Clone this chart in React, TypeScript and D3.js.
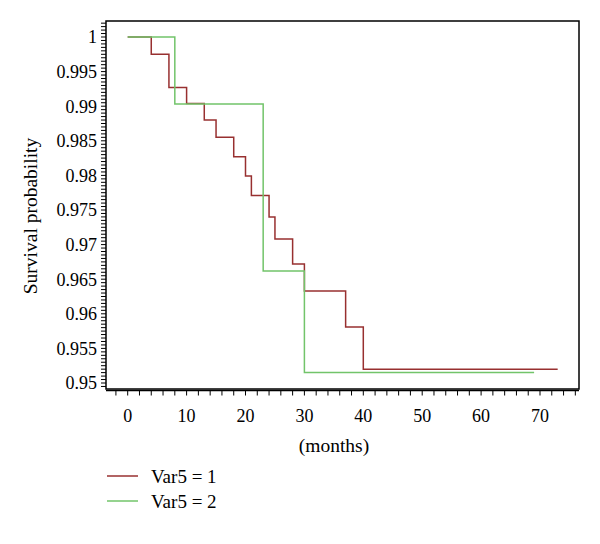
import React from "react";
import * as d3 from "d3";

const group1Times = [0, 4, 7, 10, 13, 15, 18, 20, 21, 24, 25, 28, 30, 37, 40];
const group1Surv = [1, 0.9975, 0.9927, 0.9904, 0.988, 0.9855, 0.9827, 0.9799, 0.9771, 0.974, 0.9708, 0.9672, 0.9633, 0.9581, 0.952];
const group1End = 73;
const group2Times = [0, 8, 23, 30];
const group2Surv = [1, 0.9903, 0.9662, 0.9515];
const group2End = 69;
const xTicks = [0, 10, 20, 30, 40, 50, 60, 70];
const yTicks = [1, 0.995, 0.99, 0.985, 0.98, 0.975, 0.97, 0.965, 0.96, 0.955, 0.95];
const legendLabels = ["Var5 = 1", "Var5 = 2"];
const colors = ["#983030", "#72c46a"];

export default function App() {
  const W = 600, H = 544;
  const left = 106, right = 579, top = 21, bottom = 389;
  const x = d3.scaleLinear().domain([0, 70]).range([127.7, 540]);
  const y = d3.scaleLinear().domain([0.95, 1]).range([383, 37]);
  const font = "'Liberation Serif', 'Times New Roman', serif";

  const stepPath = (times: number[], surv: number[], end: number) => {
    const pts: [number, number][] = times.map((t, i) => [t, surv[i]]);
    pts.push([end, surv[surv.length - 1]]);
    const line = d3.line<[number, number]>().x(d => x(d[0])).y(d => y(d[1])).curve(d3.curveStepAfter);
    return line(pts) || "";
  };

  const minorY: number[] = [];
  for (let v = 0.9495; v <= 1.0024; v += 0.0005) minorY.push(+v.toFixed(4));
  const minorX: number[] = [];
  for (let v = -2; v <= 76; v += 2) minorX.push(v);

  const axisY = bottom + 1.5;
  return (
    <svg width={W} height={H} style={{ position: "absolute", left: 0, top: 0, background: "#fff" }} fontFamily={font}>
      <rect x={left} y={top} width={right - left} height={bottom - top} fill="none" stroke="#000" strokeWidth={1.5} />
      {minorY.map((v, i) => (
        <line key={"my" + i} x1={left - 5} x2={left} y1={y(v)} y2={y(v)} stroke="#000" strokeWidth={1} />
      ))}
      {yTicks.map((v, i) => (
        <text key={"yt" + i} x={left - 9} y={y(v)} dy="0.35em" textAnchor="end" fontSize={18} fill="#000">
          {String(v)}
        </text>
      ))}
      <line x1={left} x2={right} y1={axisY} y2={axisY} stroke="#000" strokeWidth={1.5} />
      {minorX.map((v, i) => (
        <line key={"mx" + i} x1={x(v)} x2={x(v)} y1={axisY} y2={axisY + 5} stroke="#000" strokeWidth={1} />
      ))}
      {xTicks.map((v, i) => (
        <text key={"xt" + i} x={x(v)} y={416} dy="0.35em" textAnchor="middle" fontSize={18} fill="#000">
          {String(v)}
        </text>
      ))}
      <text x={334} y={445} dy="0.35em" textAnchor="middle" fontSize={19.5} fill="#000">(months)</text>
      <text transform={`translate(30,216) rotate(-90)`} textAnchor="middle" dy="0.35em" fontSize={19.5} fill="#000">
        Survival probability
      </text>
      <path d={stepPath(group1Times, group1Surv, group1End)} fill="none" stroke={colors[0]} strokeWidth={1.5} />
      <path d={stepPath(group2Times, group2Surv, group2End)} fill="none" stroke={colors[1]} strokeWidth={1.5} />
      {legendLabels.map((l, i) => (
        <g key={"lg" + i}>
          <line x1={107} x2={138} y1={476 + i * 25} y2={476 + i * 25} stroke={colors[i]} strokeWidth={1.5} />
          <text x={151} y={476 + i * 25} dy="0.35em" fontSize={19} fill="#000">{l}</text>
        </g>
      ))}
    </svg>
  );
}
